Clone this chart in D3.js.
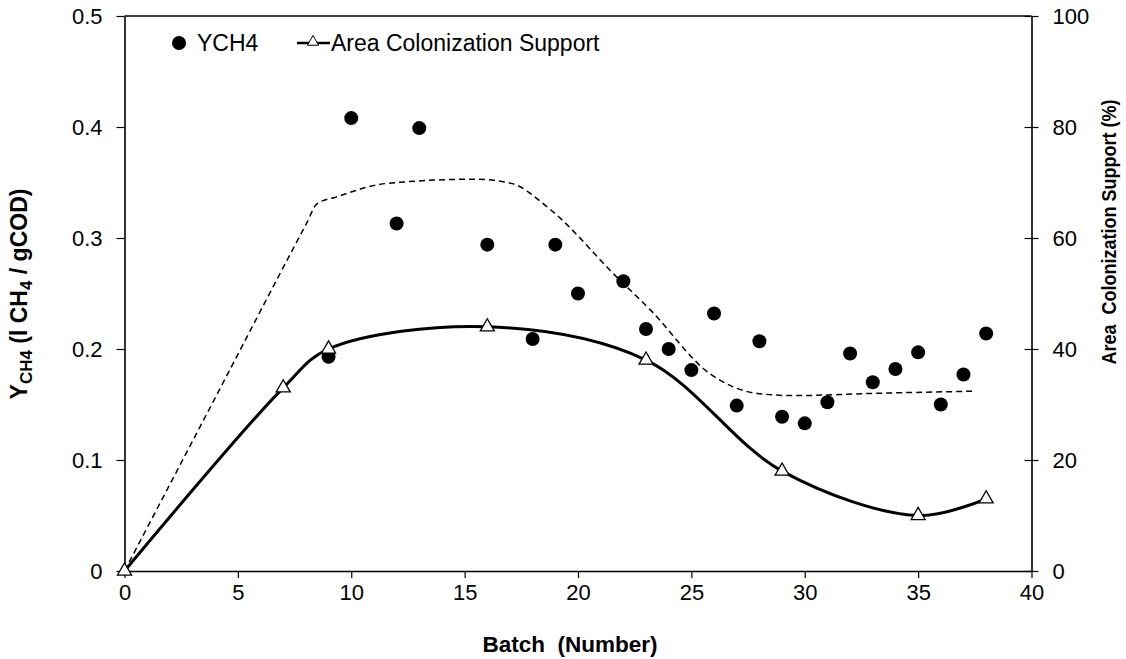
<!DOCTYPE html>
<html>
<head>
<meta charset="utf-8">
<script src="https://cdn.jsdelivr.net/npm/d3@7"></script>
<style>
  body { margin: 0; background: #fff; }
  svg { display: block; font-family: "Liberation Sans", Arial, sans-serif; }
</style>
</head>
<body>
<svg id="chart" width="1126" height="659"></svg>
<script>
// ---- data ----
const ychBatch = [9, 10, 12, 13, 16, 18, 19, 20, 22, 23, 24, 25, 26, 27, 28, 29, 30, 31, 32, 33, 34, 35, 36, 37, 38];
const ychValue = [0.193, 0.408, 0.313, 0.399, 0.294, 0.209, 0.294, 0.250, 0.261, 0.218, 0.200, 0.181, 0.232, 0.149, 0.207, 0.139, 0.133, 0.152, 0.196, 0.170, 0.182, 0.197, 0.150, 0.177, 0.214];

const areaBatch = [0, 7, 9, 16, 23, 29, 35, 38];
const areaValue = [0, 33, 40, 44, 38, 18, 10, 13];

// dashed (unlabelled) curve, read on the left axis
const dashBatch = [0, 4, 8.0, 8.5, 9.35, 11.5, 15.5, 17.1, 18.7, 21.7, 23.2, 25.8, 27.9, 29.5, 33, 37.5];
const dashValue = [0, 0.156, 0.312, 0.331, 0.337, 0.349, 0.353, 0.349, 0.327, 0.265, 0.235, 0.178, 0.160, 0.158, 0.160, 0.162];

const xTicks = [0, 5, 10, 15, 20, 25, 30, 35, 40];
const yLeftTicks = [0, 0.1, 0.2, 0.3, 0.4, 0.5];
const yRightTicks = [0, 20, 40, 60, 80, 100];

// ---- layout ----
const svg = d3.select("#chart");
const L = 124.5, R = 1031.5, T = 16, B = 571;
const FS = 22;

const x = d3.scaleLinear().domain([0, 40]).range([L, R]);
const yL = d3.scaleLinear().domain([0, 0.5]).range([B, T]);
const yR = d3.scaleLinear().domain([0, 100]).range([B, T]);

// axes
const gx = svg.append("g").attr("transform", `translate(0,${B})`)
  .call(d3.axisBottom(x).tickValues(xTicks).tickFormat(d3.format("d")).tickSizeInner(7).tickSizeOuter(0).tickPadding(6));
const gl = svg.append("g").attr("transform", `translate(${L},0)`)
  .call(d3.axisLeft(yL).tickValues(yLeftTicks).tickFormat(d => d === 0 ? "0" : d3.format(".1f")(d)).tickSizeInner(8).tickSizeOuter(0).tickPadding(14));
const gr = svg.append("g").attr("transform", `translate(${R},0)`)
  .call(d3.axisRight(yR).tickValues(yRightTicks).tickFormat(d3.format("d")).tickSizeInner(7).tickSizeOuter(0).tickPadding(14));
// right ticks cross the axis
gr.selectAll(".tick line").attr("x1", -7);

[gx, gl, gr].forEach(g => {
  g.selectAll(".domain").attr("stroke", "#000").attr("stroke-width", 1.6);
  g.selectAll(".tick line").attr("stroke", "#000").attr("stroke-width", 1.2);
  g.selectAll(".tick text").attr("font-size", FS).attr("fill", "#000")
    .attr("font-family", "'Liberation Sans', Arial, sans-serif");
});
// top border line
svg.append("line").attr("x1", L).attr("x2", R).attr("y1", T).attr("y2", T)
  .attr("stroke", "#000").attr("stroke-width", 1.6);

// dashed curve
svg.append("path")
  .datum(dashBatch.map((b, i) => [b, dashValue[i]]))
  .attr("fill", "none").attr("stroke", "#000").attr("stroke-width", 1.5)
  .attr("stroke-dasharray", "6,4")
  .attr("d", d3.line().x(d => x(d[0])).y(d => yL(d[1])).curve(d3.curveMonotoneX));

// area colonization smoothed line
const areaPts = areaBatch.map((b, i) => [b, areaValue[i]]);
svg.append("path")
  .datum(areaPts)
  .attr("fill", "none").attr("stroke", "#000").attr("stroke-width", 3)
  .attr("d", d3.line().x(d => x(d[0])).y(d => yR(d[1])).curve(d3.curveCatmullRom.alpha(0.5)));

// YCH4 points
svg.append("g").selectAll("circle")
  .data(ychBatch.map((b, i) => [b, ychValue[i]]))
  .join("circle")
  .attr("cx", d => x(d[0])).attr("cy", d => yL(d[1])).attr("r", 7).attr("fill", "#000");

// triangles
const tri = d3.symbol().type(d3.symbolTriangle).size(85);
svg.append("g").selectAll("path")
  .data(areaPts)
  .join("path")
  .attr("transform", d => `translate(${x(d[0])},${yR(d[1])})`)
  .attr("d", tri).attr("fill", "#fff").attr("stroke", "#000").attr("stroke-width", 1.3);

// legend
const LFS = 23;
svg.append("circle").attr("cx", 179).attr("cy", 43).attr("r", 7).attr("fill", "#000");
svg.append("text").attr("x", 197).attr("y", 51).attr("font-size", LFS).text("YCH4");
svg.append("line").attr("x1", 297).attr("x2", 330).attr("y1", 43).attr("y2", 43)
  .attr("stroke", "#000").attr("stroke-width", 2.5);
svg.append("path").attr("transform", "translate(313,42)")
  .attr("d", d3.symbol().type(d3.symbolTriangle).size(55)).attr("fill", "#fff")
  .attr("stroke", "#000").attr("stroke-width", 1);
svg.append("text").attr("x", 331).attr("y", 51).attr("font-size", LFS).text("Area Colonization Support");

// axis titles
svg.append("text").attr("x", 570).attr("y", 652)
  .attr("text-anchor", "middle").attr("font-size", 22.5).attr("font-weight", "bold")
  .attr("xml:space", "preserve").text("Batch  (Number)");

const lt = svg.append("text").attr("transform", "translate(27,294) rotate(-90)")
  .attr("text-anchor", "middle").attr("font-size", 23).attr("font-weight", "bold");
lt.append("tspan").text("Y");
lt.append("tspan").attr("font-size", 17).attr("dy", 5).text("CH4");
lt.append("tspan").attr("dy", -5).text(" (l CH");
lt.append("tspan").attr("font-size", 17).attr("dy", 5).text("4");
lt.append("tspan").attr("dy", -5).text(" / gCOD)");

svg.append("text").attr("transform", "translate(1116,232) rotate(-90)")
  .attr("text-anchor", "middle").attr("font-size", 20.5).attr("font-weight", "bold")
  .attr("textLength", 265).attr("lengthAdjust", "spacingAndGlyphs")
  .attr("xml:space", "preserve").text("Area  Colonization Support (%)");
</script>
</body>
</html>
